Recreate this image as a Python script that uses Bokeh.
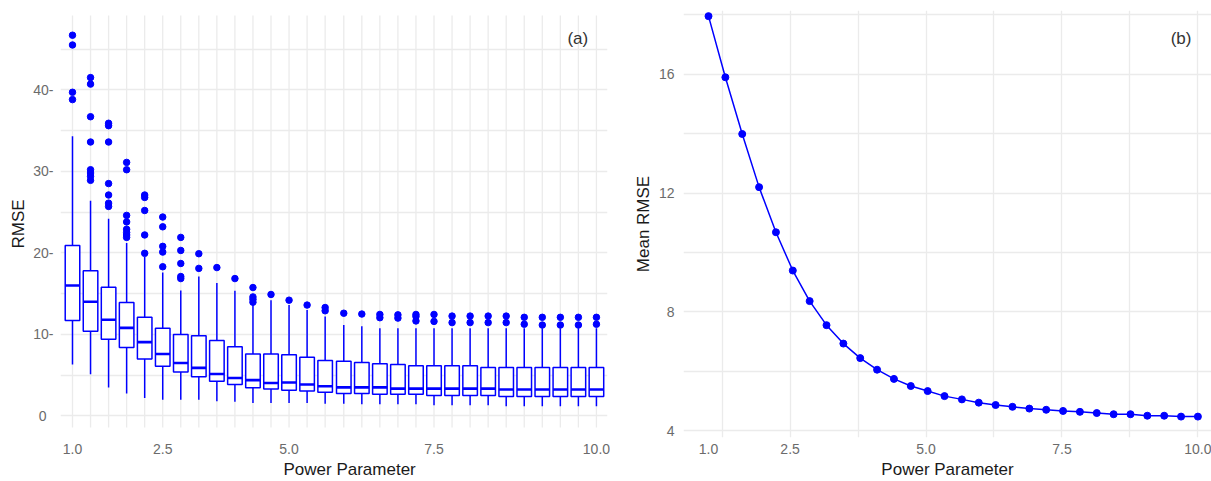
from bokeh.plotting import figure
from bokeh.models import Range1d, FixedTicker, Label, Title, ColumnDataSource, NumeralTickFormatter
from bokeh.layouts import row
from bokeh.embed import file_html
from bokeh.resources import INLINE

# ---------------- data ----------------
powers = [1.00, 1.31, 1.62, 1.93, 2.24, 2.55, 2.86, 3.17, 3.48, 3.79,
          4.10, 4.41, 4.72, 5.03, 5.34, 5.66, 5.97, 6.28, 6.59, 6.90,
          7.21, 7.52, 7.83, 8.14, 8.45, 8.76, 9.07, 9.38, 9.69, 10.00]

whisker_low = [6.3, 5.1, 3.5, 2.75, 2.2, 2.0, 2.0, 2.0, 1.8, 1.75,
               1.6, 1.6, 1.6, 1.6, 1.5, 1.5, 1.45, 1.45, 1.45, 1.45,
               1.3, 1.3, 1.3, 1.3, 1.2, 1.2, 1.2, 1.2, 1.2, 1.2]
q1 = [11.7, 10.4, 9.4, 8.4, 7.0, 6.1, 5.4, 4.8, 4.25, 3.85,
      3.45, 3.3, 3.15, 3.05, 2.9, 2.75, 2.75, 2.65, 2.65, 2.65,
      2.5, 2.5, 2.5, 2.5, 2.4, 2.4, 2.4, 2.4, 2.4, 2.4]
median = [16.0, 14.0, 11.8, 10.8, 9.05, 7.6, 6.5, 5.9, 5.15, 4.65,
          4.4, 4.05, 4.1, 3.85, 3.65, 3.5, 3.5, 3.5, 3.35, 3.35,
          3.35, 3.35, 3.35, 3.35, 3.25, 3.25, 3.25, 3.25, 3.25, 3.25]
q3 = [20.9, 17.8, 15.8, 13.9, 12.1, 10.75, 10.0, 9.85, 9.25, 8.5,
      7.6, 7.6, 7.5, 7.2, 6.8, 6.7, 6.55, 6.4, 6.3, 6.15,
      6.15, 6.15, 6.15, 5.95, 5.95, 5.95, 5.95, 5.95, 5.95, 5.95]
whisker_high = [34.3, 26.4, 24.2, 21.2, 19.5, 17.6, 15.4, 17.1, 16.3, 15.35,
                13.6, 14.2, 13.6, 13.0, 12.2, 11.15, 11.0, 10.75, 10.75, 10.75,
                10.75, 10.75, 10.75, 10.75, 10.75, 10.75, 10.75, 10.75, 10.75, 10.75]
outliers = [
    [46.7, 45.5, 39.7, 38.8],
    [41.5, 40.7, 36.7, 33.6, 30.2, 29.8, 29.4, 28.9],
    [35.9, 35.6, 33.6, 28.5, 27.1, 26.1, 25.7],
    [31.1, 30.2, 24.6, 23.8, 22.9, 22.5, 22.2, 21.9],
    [27.1, 26.8, 25.2, 22.2, 19.95],
    [24.4, 23.2, 20.8, 20.1, 18.3],
    [21.9, 20.3, 18.7, 17.1, 16.85],
    [19.9, 18.1],
    [18.2],
    [16.85],
    [15.75, 14.6, 14.3, 13.95],
    [14.9],
    [14.2],
    [13.6],
    [13.3, 12.9],
    [12.6],
    [12.5],
    [12.45, 12.05],
    [12.4, 12.0],
    [12.45, 12.2, 11.65],
    [12.45, 11.6],
    [12.25, 11.45],
    [12.25, 11.45],
    [12.25, 11.45],
    [12.25, 11.45],
    [12.1, 11.25],
    [12.1, 11.15],
    [12.1, 11.15],
    [12.1, 11.15],
    [12.1, 11.25],
]

mean_rmse = [17.96, 15.9, 13.99, 12.2, 10.68, 9.39, 8.36, 7.55, 6.93, 6.44,
             6.05, 5.74, 5.50, 5.33, 5.16, 5.05, 4.94, 4.86, 4.80, 4.74,
             4.70, 4.66, 4.63, 4.59, 4.55, 4.55, 4.50, 4.50, 4.47, 4.47]

left_x_label_idx = [0, 5, 12, 20, 29]
left_x_labels = ["1.0", "2.5", "5.0", "7.5", "10.0"]
left_y_ticks = [0, 10, 20, 30, 40]
left_y_labels = ["0\u2002", "10-", "20-", "30-", "40-"]
left_y_grid = [0, 5, 10, 15, 20, 25, 30, 35, 40, 45]
right_x_ticks = [1.0, 2.5, 5.0, 7.5, 10.0]
right_x_grid = [1.25, 2.5, 3.75, 5.0, 6.25, 7.5, 8.75, 10.0]
right_y_ticks = [4, 8, 12, 16]
right_y_grid = [4, 6, 8, 10, 12, 14, 16, 18]

# ---------------- style ----------------
FONT = "Liberation Sans"
BLUE = "#0000FF"
GRID = "#EBEBEB"
TICK_COL = "#6b6b6b"
TITLE_COL = "#1a1a1a"


def style(p):
    p.outline_line_color = None
    p.background_fill_color = "white"
    p.border_fill_color = "white"
    for ax in p.axis:
        ax.axis_line_color = None
        ax.major_tick_line_color = None
        ax.minor_tick_line_color = None
        ax.major_tick_out = 0
        ax.major_tick_in = 0
        ax.major_label_text_font = FONT
        ax.major_label_text_font_size = "14px"
        ax.major_label_text_color = TICK_COL
        ax.axis_label_text_font = FONT
        ax.axis_label_text_font_size = "17px"
        ax.axis_label_text_font_style = "normal"
        ax.axis_label_text_color = TITLE_COL
    p.xgrid.grid_line_color = GRID
    p.ygrid.grid_line_color = GRID
    p.xgrid.grid_line_width = 1.3
    p.ygrid.grid_line_width = 1.3


# ---------------- panel (a) ----------------
# panel (a) drawing area: vertical grid lines run from y=-1.425 to y=49.12
left_vgrid_lo, left_vgrid_hi = -1.425, 49.12

p1 = figure(width=610, height=481, output_backend="svg", toolbar_location=None,
            x_range=Range1d(0.794, 10.19), y_range=Range1d(-2.643, 49.73),
            min_border_left=60, min_border_right=3, min_border_top=10, min_border_bottom=41)
p1.yaxis.axis_label = "RMSE"
style(p1)

p1.xaxis.ticker = FixedTicker(ticks=[powers[i] for i in left_x_label_idx])
p1.xaxis.major_label_overrides = {powers[i]: lab for i, lab in zip(left_x_label_idx, left_x_labels)}
p1.yaxis.ticker = FixedTicker(ticks=left_y_ticks)
p1.yaxis.major_label_overrides = {t: lab for t, lab in zip(left_y_ticks, left_y_labels)}
p1.xgrid.grid_line_color = None
p1.ygrid.ticker = FixedTicker(ticks=left_y_grid)
p1.xaxis.major_label_standoff = 6
p1.yaxis.major_label_standoff = 7
p1.yaxis.axis_label_standoff = 2

# x-axis title of panel (a), placed below the tick labels
p1.add_layout(Title(text="Power Parameter", align="left", offset=223, standoff=2,
                    text_font=FONT, text_font_size="17px", text_font_style="normal",
                    text_color=TITLE_COL), "below")

# vertical grid lines at every box position (limited to the panel area)
p1.segment(x0=powers, y0=[left_vgrid_lo] * len(powers), x1=powers, y1=[left_vgrid_hi] * len(powers),
           line_color=GRID, line_width=1.3, level="underlay")

half_w = 0.125
box_src = ColumnDataSource(dict(
    x=powers, left=[v - half_w for v in powers], right=[v + half_w for v in powers],
    lo=whisker_low, q1=q1, med=median, q3=q3, hi=whisker_high))

p1.segment(x0="x", y0="q3", x1="x", y1="hi", source=box_src, line_color=BLUE, line_width=1.5)
p1.segment(x0="x", y0="lo", x1="x", y1="q1", source=box_src, line_color=BLUE, line_width=1.5)
p1.quad(left="left", right="right", bottom="q1", top="q3", source=box_src,
        fill_color="white", line_color=BLUE, line_width=1.5)
p1.segment(x0="left", y0="med", x1="right", y1="med", source=box_src, line_color=BLUE, line_width=2.6)

ox, oy = [], []
for xv, vals in zip(powers, outliers):
    for v in vals:
        ox.append(xv)
        oy.append(v)
p1.scatter(ox, oy, size=6.5, color=BLUE, line_color=BLUE)

p1.add_layout(Label(x=9.68, y=46.3, text="(a)", text_font=FONT, text_font_size="17px",
                    text_color="#333333", text_align="center", text_baseline="middle"))

# ---------------- panel (b) ----------------
p2 = figure(width=601, height=481, output_backend="svg", toolbar_location=None,
            x_range=Range1d(0.54, 10.25), y_range=Range1d(3.766, 18.15),
            min_border_left=73, min_border_right=0, min_border_top=10, min_border_bottom=41)
p2.xaxis.axis_label = "Power Parameter"
p2.yaxis.axis_label = "Mean RMSE"
style(p2)
p2.xaxis.ticker = FixedTicker(ticks=right_x_ticks)
p2.xaxis.formatter = NumeralTickFormatter(format="0.0")
p2.yaxis.ticker = FixedTicker(ticks=right_y_ticks)
p2.xgrid.ticker = FixedTicker(ticks=right_x_grid)
p2.ygrid.ticker = FixedTicker(ticks=right_y_grid)
p2.xaxis.major_label_standoff = 6
p2.xaxis.axis_label_standoff = 3
p2.yaxis.major_label_standoff = 9
p2.yaxis.axis_label_standoff = 3

p2.line(powers, mean_rmse, line_color=BLUE, line_width=1.5)
p2.scatter(powers, mean_rmse, size=7, color=BLUE, line_color=BLUE)

p2.add_layout(Label(x=9.69, y=17.21, text="(b)", text_font=FONT, text_font_size="17px",
                    text_color="#333333", text_align="center", text_baseline="middle"))

layout = row(p1, p2)
open("out.html", "w").write(file_html(layout, INLINE))
